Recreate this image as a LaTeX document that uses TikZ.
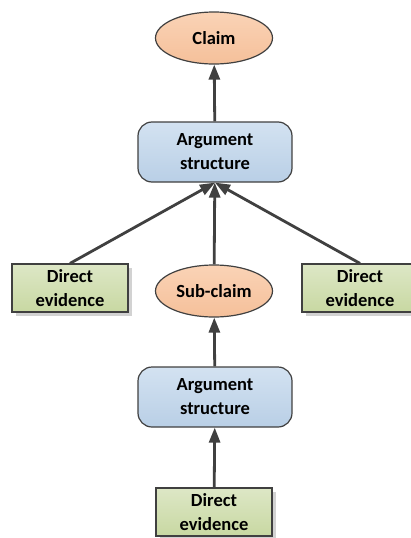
\documentclass[tikz,border=0pt]{standalone}
\usepackage{fontspec}
\setmainfont{Carlito}
\usepackage{tikz}
\usetikzlibrary{arrows.meta,shapes.geometric,shadows}
\definecolor{edgegray}{HTML}{404040}
\definecolor{claimtop}{HTML}{FAD3B6}
\definecolor{claimbot}{HTML}{F5C09A}
\definecolor{argtop}{HTML}{D3E2F1}
\definecolor{argbot}{HTML}{B9CFE6}
\definecolor{evtop}{HTML}{DDE7C6}
\definecolor{evbot}{HTML}{C8D8A2}

\begin{document}
\begin{tikzpicture}[x=1pt,y=-1pt,
    every node/.style={font=\fontsize{18.5}{24}\selectfont\bfseries,align=center},
    claimnode/.style={ellipse,draw=edgegray,line width=1.2pt,top color=claimtop,bottom color=claimbot,
      minimum width=117pt,minimum height=52pt,inner sep=0pt},
    argnode/.style={rectangle,rounded corners=14pt,draw=edgegray,line width=1.2pt,top color=argtop,bottom color=argbot,
      minimum width=154pt,minimum height=60pt,inner sep=0pt},
    evnode/.style={rectangle,draw=edgegray,line width=1.2pt,top color=evtop,bottom color=evbot,
      minimum width=116pt,minimum height=48pt,inner sep=0pt,
      drop shadow={shadow xshift=4pt,shadow yshift=-4pt,fill=gray!35,opacity=1}},
    support/.style={draw=edgegray,line width=2.8pt,-{Triangle[length=15pt,width=11pt]}}]
  \useasboundingbox (0,0) rectangle (411,538);
  %upper level
  \node[claimnode] (claim) at (214,38) {Claim};
  \node[argnode] (arg1) at (215,152) {Argument\\structure};
  \node[evnode] (ev1) at (70,288) {Direct\\evidence};
  \node[claimnode] (subclaim) at (214,291) {Sub-claim};
  \node[evnode] (ev2) at (360,288) {Direct\\evidence};
  %lower level
  \node[argnode] (arg2) at (215,397) {Argument\\structure};
  \node[evnode] (ev3) at (214,512) {Direct\\evidence};
  %connectors
  \draw[support] (arg1) -- (claim);
  \draw[support] (ev1.north) -- (arg1.south);
  \draw[support] (subclaim) -- (arg1);
  \draw[support] (ev2.north) -- (arg1.south);
  \draw[support] (arg2) -- (subclaim);
  \draw[support] (ev3) -- (arg2);
\end{tikzpicture}
\end{document}
